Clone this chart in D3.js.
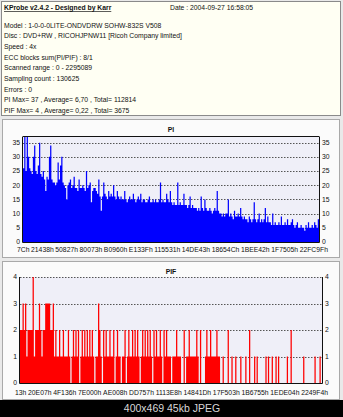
<!DOCTYPE html>
<html>
<head>
<meta charset="utf-8">
<script src="https://cdn.jsdelivr.net/npm/d3@7"></script>
<style>
  body { margin: 0; background: #000; }
  svg { display: block; }
  text { font-family: "Liberation Sans", Arial, sans-serif; fill: #111; }
</style>
</head>
<body>
<svg id="chart" width="343" height="417"></svg>
<script>
// ---- report text ----
const appTitle = "KProbe v2.4.2 - Designed by Karr";
const dateText = "Date : 2004-09-27 16:58:05";
const infoLines = [
  "Model : 1-0-0-0LITE-ONDVDRW SOHW-832S  V508",
  "Disc : DVD+RW , RICOHJPNW11 [Ricoh Company limited]",
  "Speed : 4x",
  "ECC blocks sum(PI/PIF) : 8/1",
  "Scanned range : 0 - 2295089",
  "Sampling count : 130625",
  "Errors : 0",
  "PI Max= 37 , Average= 6,70 , Total= 112814",
  "PIF Max= 4 , Average= 0,22 , Total= 3675"
];
const captionText = "400x469 45kb JPEG";

// ---- PI errors ----
const piTicks = [0, 5, 10, 15, 20, 25, 30, 35];
const piMax = 37;
const piLabels = ["7Ch", "21438h", "50827h", "80073h", "B0960h", "E133Fh", "115531h", "14DE43h", "18654Ch", "1BEE42h", "1F7505h", "22FC9Fh"];
const piValues = [
  26,37,25,37,30,26,25,24,30,34,25,24,27,35,24,23,25,22,18,23,
  22,30,34,22,21,21,20,21,28,22,27,30,21,20,19,15,20,21,22,19,
  20,23,19,19,18,22,19,19,20,19,18,25,19,20,21,14,18,19,19,18,
  17,22,16,11,16,21,17,16,15,18,16,17,16,20,16,15,18,16,15,16,
  15,15,18,15,14,15,16,15,15,17,15,14,15,16,15,17,14,15,15,14,
  14,15,16,14,14,15,14,15,14,14,15,21,14,15,14,14,17,15,14,18,
  14,13,14,13,13,21,13,14,13,13,17,13,13,12,13,16,12,13,12,12,
  12,11,12,11,16,12,11,15,12,11,11,12,11,10,11,12,11,18,11,10,
  10,9,10,9,10,10,15,9,10,9,8,11,9,9,10,9,12,9,8,9,
  8,8,7,9,8,7,8,14,8,7,8,10,7,8,7,8,12,7,9,7,
  7,6,10,6,7,6,6,7,6,9,6,6,7,6,8,6,6,7,8,6,
  5,6,7,5,5,6,5,5,4,6,5,7,5,5,6,5,7,6,5,8
];

// ---- PIF errors ----
const pifTicks = [0, 1, 2, 3, 4];
const pifMax = 4;
const pifLabels = ["13h", "20E07h", "4F136h", "7E000h", "AE008h", "DD757h", "1113E8h", "14841Dh", "17F503h", "1B6755h", "1EDE04h", "2249F4h"];
const pifValues = [
  2,2,3,2,3,1,2,2,2,2,4,1,2,2,2,3,2,1,2,2,3,3,3,3,2,
  2,3,1,2,1,1,2,1,1,2,1,1,1,2,1,0,1,2,1,2,1,2,0,1,2,1,2,1,2,1,2,1,2,1,0,1,1,
  3,
  2,1,0,2,1,2,1,1,2,1,1,2,0,1,2,1,1,0,1,1,2,0,1,2,1,1,2,1,2,1,2,1,0,1,2,1,2,1,2,
  1,2,1,0,2,1,2,1,1,2,1,0,2,1,2,1,1,1,0,1,
  1,1,2,1,1,1,0,0,2,0,1,1,2,1,1,1,1,1,2,1,0,2,0,0,0,1,2,1,1,2,1,1,1,1,2,1,1,0,
  0,1,0,0,0,2,0,0,1,0, 0,1,0,0,0,1,0,0,0,1,
  0,0,2,0,0,0,1,0,1,0, 0,0,0,0,0,1,0,1,0,0,
  1,0,0,1,0,1,0,0,0,0, 0,0,1,0,0,2,0,0,0,0,
  0,0,0,0,0,1,0,0,0,0, 0,0,0,0,1,0,0,0,1,0
];

const svg = d3.select("#chart");
const W = 343, H = 417;
const FS = 6.8;

svg.append("rect").attr("width", W).attr("height", H).attr("fill", "#000");
svg.append("rect").attr("width", W).attr("height", 400).attr("fill", "#e9e9e9");

// ---- header block ----
const head = svg.append("g");
head.append("rect")
  .attr("x", 1.5).attr("y", 1.5).attr("width", 339).attr("height", 114)
  .attr("fill", "#fffff3").attr("stroke", "#8a8a8a");
head.append("text").attr("x", 4).attr("y", 10)
  .attr("font-size", FS).attr("font-weight", "bold")
  .attr("text-decoration", "underline").text(appTitle);
head.append("text").attr("x", 170).attr("y", 10)
  .attr("font-size", FS).text(dateText);
head.selectAll("text.info").data(infoLines).join("text")
  .attr("class", "info")
  .attr("x", 4).attr("y", (d, i) => 27.5 + i * 10.7)
  .attr("font-size", FS).text(d => d);

// ---- one chart panel ----
function drawPanel(cfg) {
  const g = svg.append("g");
  g.append("rect")
    .attr("x", 2.5).attr("y", cfg.panelTop + 0.5)
    .attr("width", 337).attr("height", cfg.panelH)
    .attr("fill", "#fbfbfb").attr("stroke", "#a9a9a9");

  const n = cfg.values.length;
  const x = d3.scaleLinear().domain([0, n]).range([cfg.x0, cfg.x1]);
  const y = d3.scaleLinear().domain([0, cfg.yMax]).range([cfg.y1, cfg.y0]);

  g.append("rect")
    .attr("x", cfg.x0).attr("y", y(cfg.yMax))
    .attr("width", cfg.x1 - cfg.x0).attr("height", y(0) - y(cfg.yMax))
    .attr("fill", "#efeff8");

  // dotted grid behind the bars
  g.selectAll("line.grid").data(cfg.ticks.filter(t => t > 0)).join("line")
    .attr("x1", cfg.x0).attr("x2", cfg.x1)
    .attr("y1", d => Math.round(y(d)) + 0.5).attr("y2", d => Math.round(y(d)) + 0.5)
    .attr("stroke", "#555").attr("stroke-dasharray", "1.5,1.5");

  // one bar per sample, joined into a single stepped shape so that
  // neighbouring bars leave no seams between them
  const steps = cfg.values.map((v, i) => [i, v]).concat([[n, cfg.values[n - 1]]]);
  const bars = d3.area()
    .x(d => x(d[0]))
    .y0(y(0))
    .y1(d => y(d[1]))
    .curve(d3.curveStepAfter);
  g.append("path").attr("d", bars(steps)).attr("fill", cfg.color);

  // frame lines
  const frame = g.append("g").attr("stroke", "#111").attr("stroke-width", 1);
  frame.append("line").attr("x1", cfg.x0 - 0.5).attr("x2", cfg.x0 - 0.5)
    .attr("y1", y(cfg.yMax)).attr("y2", y(0) + 0.5);
  frame.append("line").attr("x1", cfg.x1 + 0.5).attr("x2", cfg.x1 + 0.5)
    .attr("y1", y(cfg.yMax)).attr("y2", y(0) + 0.5);
  frame.append("line").attr("x1", cfg.x0 - 0.5).attr("x2", cfg.x1 + 0.5)
    .attr("y1", y(0) + 0.5).attr("y2", y(0) + 0.5);
  if (cfg.topBorder) {
    frame.append("line").attr("x1", cfg.x0 - 0.5).attr("x2", cfg.x1 + 0.5)
      .attr("y1", y(cfg.yMax) - 0.5).attr("y2", y(cfg.yMax) - 0.5);
  }

  // y axis labels on both sides
  g.selectAll("text.yl").data(cfg.ticks).join("text")
    .attr("x", cfg.x0 - 3).attr("y", d => y(d) + 2.4)
    .attr("text-anchor", "end").attr("font-size", FS).text(d => d);
  g.selectAll("text.yr").data(cfg.ticks).join("text")
    .attr("x", cfg.x1 + 3).attr("y", d => y(d) + 2.4)
    .attr("font-size", FS).text(d => d);

  g.append("text").attr("x", 171).attr("y", cfg.titleY)
    .attr("text-anchor", "middle").attr("font-size", FS).attr("font-weight", "bold")
    .text(cfg.title);

  // x labels spread evenly across the row
  const xl = g.selectAll("text.xl").data(cfg.labels).join("text")
    .attr("y", cfg.labelY).attr("font-size", FS).text(d => d);
  const widths = xl.nodes().map(nd => nd.getComputedTextLength());
  const total = d3.sum(widths);
  const gap = (cfg.labelRight - cfg.labelLeft - total) / (cfg.labels.length - 1);
  let cursor = cfg.labelLeft;
  xl.attr("x", (d, i) => { const p = cursor; cursor += widths[i] + gap; return p; });
}

drawPanel({
  panelTop: 119, panelH: 138,
  x0: 23, x1: 319, y0: 137, y1: 242,
  yMax: piMax, ticks: piTicks, values: piValues, color: "#0000ff",
  title: "PI", titleY: 132, topBorder: true,
  labels: piLabels, labelY: 251.5, labelLeft: 17, labelRight: 328
});

drawPanel({
  panelTop: 261, panelH: 138,
  x0: 20, x1: 322, y0: 277, y1: 383,
  yMax: pifMax, ticks: pifTicks, values: pifValues, color: "#ff0000",
  title: "PIF", titleY: 273.5, topBorder: false,
  labels: pifLabels, labelY: 394.5, labelLeft: 15, labelRight: 328
});

// caption strip
svg.append("text").attr("x", 172).attr("y", 412)
  .attr("text-anchor", "middle").attr("font-size", 10.5)
  .style("fill", "#d8d8d8").text(captionText);
</script>
</body>
</html>
